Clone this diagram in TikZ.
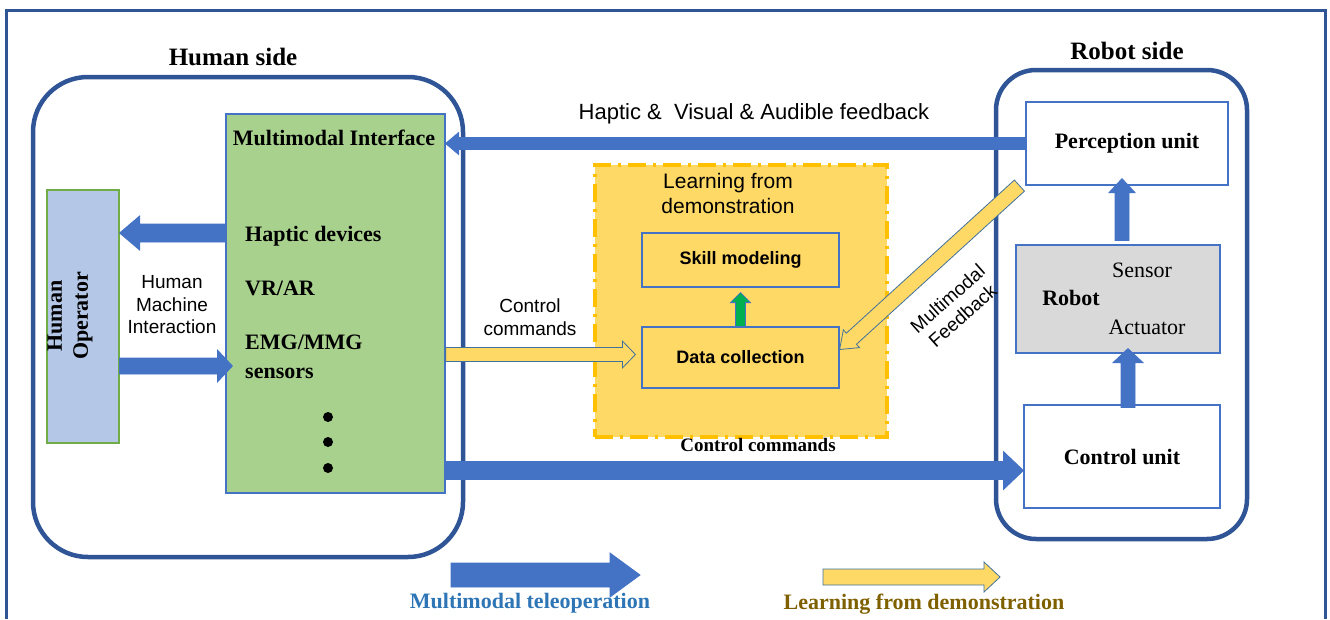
\documentclass[tikz,border=0pt]{standalone}
\usepackage{fontspec}
\setmainfont{Liberation Serif}
\setsansfont{Liberation Sans}
\usetikzlibrary{calc}

\definecolor{frameblue}{HTML}{2F5597}
\definecolor{arrowblue}{HTML}{4472C4}
\definecolor{boxblue}{HTML}{4472C4}
\definecolor{greenfill}{HTML}{A9D18E}
\definecolor{opfill}{HTML}{B4C7E7}
\definecolor{opline}{HTML}{70AD47}
\definecolor{lfdfill}{HTML}{FFD966}
\definecolor{lfdline}{HTML}{FFC000}
\definecolor{robotfill}{HTML}{D9D9D9}
\definecolor{skillgreen}{HTML}{00B050}
\definecolor{legendblue}{HTML}{2E75B6}
\definecolor{legendgold}{HTML}{7F6000}
\definecolor{yarrowline}{HTML}{41719C}

% block arrow: fill, outline, shaft half, head half, head length, from, to
\newcommand{\bigarrow}[7]{%
  \coordinate (ba-s) at (#6);
  \coordinate (ba-e) at (#7);
  \coordinate (ba-h) at ($(ba-e)!#5!(ba-s)$);
  \filldraw[fill=#1,draw=#2,line width=.8pt,line join=miter]
    ($(ba-s)!#3!90:(ba-e)$) -- ($(ba-h)!#3!-90:(ba-s)$) -- ($(ba-h)!#4!-90:(ba-s)$)
    -- (ba-e) -- ($(ba-h)!#4!90:(ba-s)$) -- ($(ba-h)!#3!90:(ba-s)$)
    -- ($(ba-s)!#3!-90:(ba-e)$) -- cycle;}

\begin{document}
\begin{tikzpicture}[x=1pt,y=-1pt,
  sidebox/.style={draw=frameblue,line width=4.5pt},
  unitbox/.style={draw=boxblue,line width=1.2pt,fill=white},
  bigserif/.style={font=\fontsize{25}{30}\selectfont\bfseries},
  serifb/.style={font=\fontsize{22}{26}\selectfont\bfseries},
  serifr/.style={font=\fontsize{22}{26}\selectfont},
  sanslbl/.style={font=\sffamily\fontsize{19}{22.5}\selectfont,align=center},
  sansbold/.style={font=\sffamily\bfseries\fontsize{18}{22}\selectfont},
  ]
  \useasboundingbox (0,0) rectangle (1330,619);
  \draw[frameblue,line width=3pt] (6,619) -- (6,10) -- (1325,10) -- (1325,619);

  % human side
  \node[bigserif] (hsidetitle) at (233,57) {Human side};
  \node[sidebox,rounded corners=55pt,minimum width=430,minimum height=480] (hside) at (248,317) {};
  \node[draw=boxblue,line width=1.2pt,fill=greenfill,minimum width=219,minimum height=379] (mi) at (335.5,303.5) {};
  \node[serifb] (mitext) at (334,138) {Multimodal Interface};
  \node[serifb,anchor=west,inner sep=0pt] (hd) at (245,236) {Haptic devices};
  \node[serifb,anchor=west,inner sep=0pt] (vr) at (245,288) {VR/AR};
  \node[font=\fontsize{22}{29}\selectfont\bfseries,anchor=west,inner sep=0pt,align=left] (emg) at (245,357) {EMG/MMG\\sensors};
  \foreach \y in {417,442,468} \fill (328,\y) circle (5pt);
  \node[draw=opline,line width=1.2pt,fill=opfill,minimum width=72,minimum height=253] (op) at (83,316.5) {};
  \node[font=\fontsize{22}{26}\selectfont\bfseries,rotate=90,align=center] (optext) at (70,316) {Human\\Operator};
  \node[sanslbl] (hmi) at (172,305) {Human\\Machine\\Interaction};

  % robot side
  \node[bigserif] (rsidetitle) at (1127,51) {Robot side};
  \node[sidebox,rounded corners=40pt,minimum width=251,minimum height=469] (rside) at (1121.5,304.5) {};
  \node[unitbox,serifb,minimum width=202,minimum height=83] (perc) at (1127,143.5) {Perception unit};
  \node[draw=boxblue,line width=1.2pt,fill=robotfill,minimum width=204,minimum height=108] (robot) at (1118,299) {};
  \node[serifb] (robottext) at (1071,298) {Robot};
  \node[serifr] (sensor) at (1142,270) {Sensor};
  \node[serifr] (actuator) at (1147,327) {Actuator};
  \node[unitbox,serifb,minimum width=196,minimum height=103] (cu) at (1122,456.5) {Control unit};

  % learning from demonstration
  \node[fill=lfdfill,draw=lfdline,line width=4pt,dash pattern=on 18pt off 7pt on 3pt off 7pt,
    minimum width=292,minimum height=272] (lfd) at (741,301) {};
  \node[sanslbl,font=\sffamily\fontsize{21}{25}\selectfont] (lfdtext) at (728,193) {Learning from\\demonstration};
  \node[draw=boxblue,line width=1.2pt,sansbold,minimum width=197,minimum height=54] (sm) at (740.5,260) {Skill modeling};
  \node[draw=boxblue,line width=1.2pt,sansbold,minimum width=197,minimum height=61] (dc) at (740.5,357.5) {Data collection};

  % labels
  \node[sanslbl,font=\sffamily\fontsize{22}{26}\selectfont] (fbtext) at (754,114) {Haptic \&~ Visual \& Audible feedback};
  \node[sanslbl] (cctext) at (530,317) {Control\\commands};
  \node[font=\fontsize{19}{22}\selectfont\bfseries] (cctext2) at (758,445) {Control commands};
  \node[sanslbl,rotate=41.6] (mftext) at (955,307) {Multimodal\\Feedback};

  % connectors
  \bigarrow{arrowblue}{arrowblue}{6pt}{11pt}{13pt}{perc.west}{mi.east |- perc.west}
  \coordinate (ctl) at ([yshift=-14pt]cu.west);
  \bigarrow{arrowblue}{arrowblue}{9pt}{19pt}{20pt}{mi.east |- ctl}{ctl}
  \coordinate (hmiout) at (op.east |- 0,233);
  \bigarrow{arrowblue}{arrowblue}{9pt}{17pt}{20pt}{mi.west |- hmiout}{hmiout}
  \coordinate (hmiin) at ([xshift=7pt]mi.west |- 0,366);
  \bigarrow{arrowblue}{arrowblue}{8pt}{16pt}{15pt}{op.east |- hmiin}{hmiin}
  \coordinate (dcin) at ([xshift=-6pt,yshift=3pt]dc.west);
  \bigarrow{lfdfill}{yarrowline}{7pt}{13.5pt}{13pt}{mi.east |- dcin}{dcin}
  \bigarrow{lfdfill}{yarrowline}{7.5pt}{12pt}{16pt}{[xshift=-6pt]perc.south west}{[yshift=8pt]dc.east}
  \bigarrow{skillgreen}{boxblue}{5pt}{10pt}{10pt}{dc.north}{[yshift=-5pt]sm.south}
  \bigarrow{arrowblue}{arrowblue}{7pt}{13pt}{14pt}{[xshift=4pt,yshift=4pt]robot.north}{[xshift=-5pt,yshift=7pt]perc.south}
  \bigarrow{arrowblue}{arrowblue}{7pt}{15pt}{14pt}{[xshift=6pt,yshift=-3pt]cu.north}{[xshift=10pt,yshift=5pt]robot.south}

  % legend
  \node[font=\fontsize{22}{26}\selectfont\bfseries,text=legendblue] (legtele) at (530,603) {Multimodal teleoperation};
  \node[font=\fontsize{22}{26}\selectfont\bfseries,text=legendgold] (leglfd) at (924,604) {Learning from demonstration};
  \coordinate (legtele1) at (451,575);
  \coordinate (legtele2) at (640,575);
  \coordinate (leglfd1) at (823,577);
  \coordinate (leglfd2) at (1000,577);
  \bigarrow{arrowblue}{arrowblue}{12pt}{22pt}{30pt}{legtele1}{legtele2}
  \bigarrow{lfdfill}{yarrowline}{8pt}{15pt}{16pt}{leglfd1}{leglfd2}
\end{tikzpicture}
\end{document}
